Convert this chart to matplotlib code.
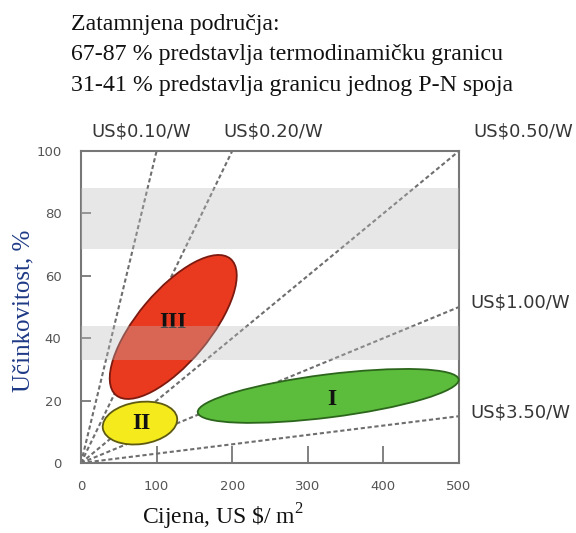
import matplotlib
matplotlib.use('Agg')
import matplotlib.pyplot as plt
from matplotlib.patches import Ellipse
from matplotlib.transforms import ScaledTranslation

plt.rcParams['mathtext.fontset'] = 'custom'
plt.rcParams['mathtext.rm'] = 'Liberation Serif'

# cost lines, from origin to the point where they leave the box
line_labels = ['US$0.10/W', 'US$0.20/W', 'US$0.50/W', 'US$1.00/W', 'US$3.50/W']
line_end_x = [100, 200, 500, 500, 500]
line_end_y = [100, 100, 100, 50, 15]

# shaded limits (%)
bands = [(68.5, 88), (33, 44)]

# technology regions
region_names = ['I', 'II', 'III']
region_cx = [327, 78, 122]
region_cy = [21.5, 12.8, 43.6]
region_w = [2.63, 0.75, 1.78]   # inches
region_h = [0.43, 0.42, 0.72]
region_angle = [7.2, 8, 50]
region_fill = ['#5cbd3c', '#f4ea1c', '#e9391f']
region_edge = ['#2c661c', '#5e5a12', '#7c1a10']
label_x = [332, 80, 122]
label_y = [20.5, 12.8, 45]

fig = plt.figure(figsize=(5.76, 5.33), dpi=100)
ax = fig.add_axes([81/576, 1-463/533, 378/576, 312/533])
ax.set_xlim(0, 500)
ax.set_ylim(0, 100)

for x1, y1 in zip(line_end_x, line_end_y):
    ax.plot([0, x1], [0, y1], color='#6e6e6e', lw=1.5, ls=(0, (2, 1.3)), zorder=2)

for i in range(3):
    tr = fig.dpi_scale_trans + ScaledTranslation(region_cx[i], region_cy[i], ax.transData)
    e = Ellipse((0, 0), region_w[i], region_h[i], angle=region_angle[i], transform=tr,
                facecolor=region_fill[i], edgecolor=region_edge[i], lw=1.3, zorder=3,
                clip_on=False)
    ax.add_patch(e)
    ax.text(label_x[i], label_y[i], region_names[i], ha='center', va='center',
            fontfamily='Liberation Serif', fontweight='bold', fontsize=17, color='#111111',
            zorder=4)

for lo, hi in bands:
    ax.axhspan(lo, hi, color='#bcbcbc', alpha=0.35, lw=0, zorder=5)

for s in ax.spines.values():
    s.set_color('#777777')
    s.set_linewidth(1.5)
ax.set_xticks([0, 100, 200, 300, 400, 500])
ax.set_yticks([0, 20, 40, 60, 80, 100])
ax.tick_params(axis='x', direction='in', length=12, width=1.3, color='#777777',
               labelcolor='#555555', labelsize=9.5, pad=12)
ax.tick_params(axis='y', direction='in', length=7, width=1.3, color='#777777',
               labelcolor='#555555', labelsize=9.5, pad=14)

# cost labels
sans = dict(fontfamily='DejaVu Sans', fontsize=13, color='#363636')
fig.text(141/576, 1-137/533, line_labels[0], ha='center', va='baseline', **sans)
fig.text(273/576, 1-137/533, line_labels[1], ha='center', va='baseline', **sans)
fig.text(523/576, 1-137/533, line_labels[2], ha='center', va='baseline', **sans)
fig.text(470/576, 1-303/533, line_labels[3], ha='left', va='center', **sans)
fig.text(470/576, 1-413/533, line_labels[4], ha='left', va='center', **sans)

serif = dict(fontfamily='Liberation Serif', fontsize=17.2, color='#111111')
fig.text(71/576, 1-30/533, 'Zatamnjena područja:', va='baseline', **serif)
fig.text(71/576, 1-60/533, '67-87 % predstavlja termodinamičku granicu', va='baseline', **serif)
fig.text(71/576, 1-91/533, '31-41 % predstavlja granicu jednog P-N spoja', va='baseline', **serif)

fig.text(142/576, 1-525/533, r'Cijena, US \$/ m$^{\mathrm{2}}$', va='baseline',
         fontfamily='Liberation Serif', fontsize=17, color='#111111')
fig.text(23/576, 1-311/533, 'Učinkovitost, %', rotation=90, ha='center', va='center',
         fontfamily='Liberation Serif', fontsize=18, color='#1f3a86')

plt.savefig('out.png', dpi=100)
